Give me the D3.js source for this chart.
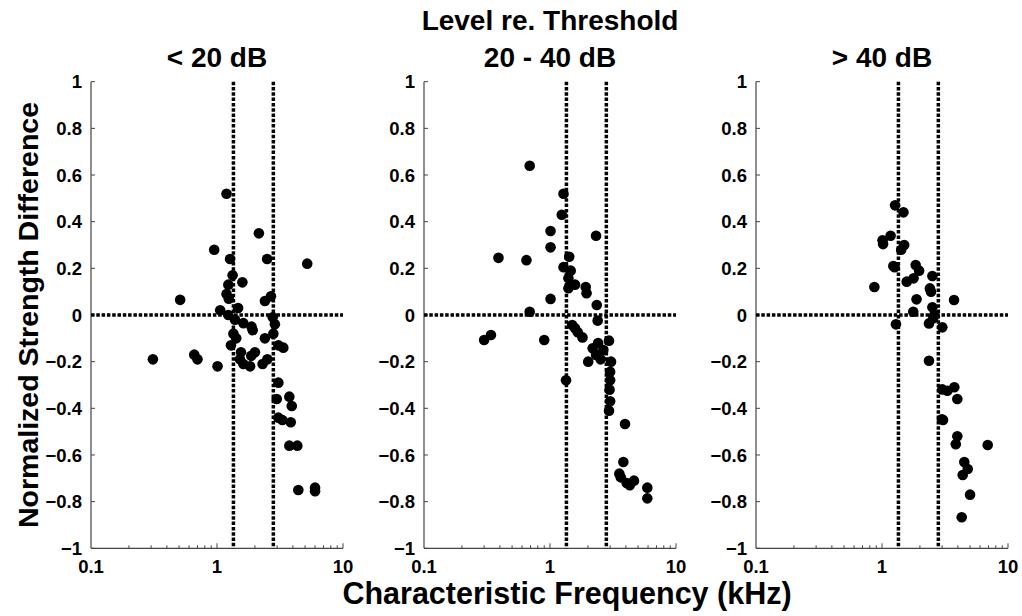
<!DOCTYPE html>
<html>
<head>
<meta charset="utf-8">
<script src="https://cdn.jsdelivr.net/npm/d3@7"></script>
<style>
  html, body { margin: 0; padding: 0; background: #fff; }
  svg { display: block; font-family: "Liberation Sans", Arial, sans-serif; }
</style>
</head>
<body>
<svg width="1022" height="616"></svg>
<script>
// panel titles
const panelTitles = ["< 20 dB", "20 - 40 dB", "> 40 dB"];

// < 20 dB : characteristic frequency (kHz) and normalized strength difference
const cfLow = [0.31, 0.51, 0.66, 0.70, 0.95, 1.01, 1.06, 1.19, 1.19, 1.24, 1.23, 1.27, 1.33, 1.59,
  1.23, 1.47, 1.39, 1.62, 1.88, 1.92, 1.35, 1.42, 1.29, 1.55, 1.52, 1.62, 1.83, 1.87, 2.0,
  2.15, 2.5, 2.4, 2.68, 2.77, 2.88, 2.8, 2.4, 2.3, 2.51, 3.07, 3.36, 3.07, 3.75, 2.98, 3.92,
  3.07, 3.3, 3.85, 3.75, 4.34, 4.42, 6.0, 6.0, 5.2];
const sdLow = [-0.19, 0.065, -0.17, -0.19, 0.28, -0.22, 0.02, 0.52, 0.09, 0.07, 0.13, 0.24, 0.17, 0.14,
  0.0, 0.03, -0.02, -0.035, -0.05, -0.065, -0.08, -0.10, -0.13, -0.16, -0.19, -0.21, -0.22, -0.175, -0.16,
  0.35, 0.24, 0.06, 0.08, -0.01, -0.04, -0.08, -0.10, -0.21, -0.19, -0.13, -0.14, -0.29, -0.35, -0.36, -0.39,
  -0.44, -0.45, -0.46, -0.56, -0.56, -0.75, -0.74, -0.755, 0.22];

// 20 - 40 dB
const cfMid = [0.30, 0.34, 0.39, 0.65, 0.69, 0.69, 0.90, 1.01, 1.01, 1.01, 1.24, 1.28, 1.42, 1.28,
  1.46, 1.40, 1.58, 1.40, 1.92, 1.95, 2.32, 2.35, 2.39, 1.34, 1.50, 1.58, 1.66, 1.81, 2.01,
  2.18, 2.41, 2.32, 2.52, 2.65, 2.94, 3.05, 3.0, 3.0, 2.97, 3.0, 2.94, 3.94, 3.82, 3.55,
  3.65, 4.06, 4.3, 4.64, 5.92, 5.92];
const sdMid = [-0.107, -0.086, 0.245, 0.235, 0.64, 0.014, -0.107, 0.36, 0.29, 0.069, 0.43, 0.52, 0.25, 0.205,
  0.19, 0.157, 0.13, 0.115, 0.12, 0.093, 0.34, 0.043, -0.024, -0.28, -0.043, -0.057, -0.074, -0.096, -0.20,
  -0.143, -0.12, -0.171, -0.19, -0.15, -0.11, -0.20, -0.243, -0.28, -0.32, -0.37, -0.41, -0.467, -0.63, -0.68,
  -0.696, -0.72, -0.73, -0.71, -0.74, -0.786];

// > 40 dB
const cfHigh = [0.87, 1.01, 1.02, 1.17, 1.27, 1.48, 1.50, 1.42, 1.23, 1.26, 1.85, 1.97, 2.51, 1.57,
  1.78, 2.40, 2.45, 1.88, 3.73, 1.77, 2.51, 1.29, 2.36, 2.55, 2.6, 3.01, 2.36, 3.01, 3.3,
  3.75, 3.96, 2.99, 3.05, 3.96, 3.85, 6.9, 4.5, 4.79, 4.37, 5.0, 4.29];
const sdHigh = [0.12, 0.32, 0.304, 0.34, 0.47, 0.44, 0.30, 0.28, 0.21, 0.205, 0.214, 0.19, 0.167, 0.143,
  0.157, 0.114, 0.10, 0.067, 0.064, 0.014, 0.033, -0.04, -0.036, -0.014, 0.0, -0.053, -0.196, -0.319, -0.325,
  -0.31, -0.36, -0.447, -0.45, -0.52, -0.554, -0.557, -0.63, -0.66, -0.686, -0.77, -0.867];

// reference lines
const boundaryCF = [1.35, 2.8];
const yTickValues = [-1, -0.8, -0.6, -0.4, -0.2, 0, 0.2, 0.4, 0.6, 0.8, 1];
const xTickLabels = ["0.1", "1", "10"];
const xMinorTicks = [0.2, 0.3, 0.4, 0.5, 0.6, 0.7, 0.8, 0.9, 1, 2, 3, 4, 5, 6, 7, 8, 9, 10];

const panels = [
  { cf: cfLow, sd: sdLow },
  { cf: cfMid, sd: sdMid },
  { cf: cfHigh, sd: sdHigh }
];

const svg = d3.select("svg");
const lefts = [91, 424, 756];
const plotTop = 81.7, plotBottom = 548.3, pw = 252;
const axisColor = "#444";

const x = d3.scaleLog().domain([0.1, 10]).range([0, pw]);
const y = d3.scaleLinear().domain([-1, 1]).range([plotBottom - plotTop, 0]);

panels.forEach((p, i) => {
    const g = svg.append("g")
        .attr("transform", `translate(${lefts[i]},${plotTop})`);
    const h = plotBottom - plotTop;

    // axes lines
    g.append("line").attr("x1", 0).attr("x2", 0).attr("y1", 0).attr("y2", h)
        .attr("stroke", axisColor).attr("stroke-width", 1.2);
    g.append("line").attr("x1", 0).attr("x2", pw).attr("y1", h).attr("y2", h)
        .attr("stroke", axisColor).attr("stroke-width", 1.2);

    // y ticks (inward)
    g.selectAll(".ytick")
        .data(yTickValues).enter().append("line")
        .attr("x1", 0).attr("x2", 4)
        .attr("y1", d => y(d)).attr("y2", d => y(d))
        .attr("stroke", axisColor).attr("stroke-width", 1);

    g.selectAll(".ylab")
        .data(yTickValues).enter().append("text")
        .attr("x", -9)
        .attr("y", d => y(d))
        .attr("dy", "0.36em")
        .attr("text-anchor", "end")
        .style("font-size", "18.5px")
        .style("font-weight", "bold")
        .text(d => d3.format("")(d));

    // x ticks (inward, log)
    g.selectAll(".xtick")
        .data(xMinorTicks).enter().append("line")
        .attr("x1", d => x(d)).attr("x2", d => x(d))
        .attr("y1", h).attr("y2", d => (d === 1 || d === 10) ? h - 5 : h - 3)
        .attr("stroke", axisColor).attr("stroke-width", 1);

    g.selectAll(".xlab")
        .data(xTickLabels).enter().append("text")
        .attr("x", d => x(+d))
        .attr("y", h + 25)
        .attr("text-anchor", "middle")
        .style("font-size", "18.5px")
        .style("font-weight", "bold")
        .text(d => d);

    // dashed reference lines
    g.selectAll(".vline")
        .data(boundaryCF).enter().append("line")
        .attr("x1", d => x(d)).attr("x2", d => x(d))
        .attr("y1", y(1)).attr("y2", y(-1))
        .attr("stroke", "#000").attr("stroke-width", 3.5)
        .attr("stroke-dasharray", "3.5,1.8");

    g.append("line")
        .attr("x1", x(0.1)).attr("x2", x(10))
        .attr("y1", y(0)).attr("y2", y(0))
        .attr("stroke", "#000").attr("stroke-width", 3.5)
        .attr("stroke-dasharray", "3.5,1.8");

    // points
    g.selectAll(".pt")
        .data(p.cf.map((c, k) => ({ cf: c, sd: p.sd[k] })))
        .enter().append("circle")
        .attr("cx", d => x(d.cf))
        .attr("cy", d => y(d.sd))
        .attr("r", 5.3)
        .attr("fill", "#000");

    // panel title
    svg.append("text")
        .attr("x", lefts[i] + pw / 2)
        .attr("y", 67)
        .attr("text-anchor", "middle")
        .style("font-size", "28px")
        .style("font-weight", "bold")
        .text(panelTitles[i]);
});

svg.append("text")
    .attr("x", lefts[1] + pw / 2)
    .attr("y", 30)
    .attr("text-anchor", "middle")
    .style("font-size", "28px")
    .style("font-weight", "bold")
    .text("Level re. Threshold");

svg.append("text")
    .attr("transform", `translate(38,${(plotTop + plotBottom) / 2}) rotate(-90)`)
    .attr("text-anchor", "middle")
    .style("font-size", "28.5px")
    .style("font-weight", "bold")
    .text("Normalized Strength Difference");

svg.append("text")
    .attr("x", lefts[1] + pw / 2 + 17)
    .attr("y", 604)
    .attr("text-anchor", "middle")
    .style("font-size", "30.5px")
    .style("font-weight", "bold")
    .text("Characteristic Frequency (kHz)");
</script>
</body>
</html>
